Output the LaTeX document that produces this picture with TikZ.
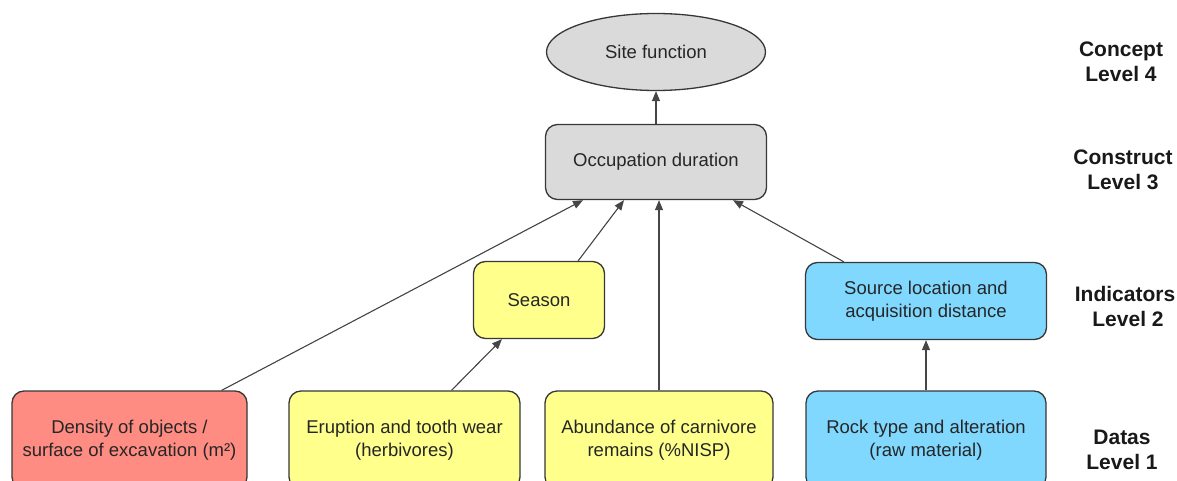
\documentclass[tikz,border=0pt]{standalone}
\usepackage{fontspec}
\setmainfont{Liberation Sans}
\usetikzlibrary{arrows.meta,shapes.geometric,positioning,calc}
\definecolor{boxred}{RGB}{255,140,130}
\definecolor{boxyellow}{RGB}{255,255,140}
\definecolor{boxblue}{RGB}{128,216,255}
\definecolor{boxgray}{RGB}{218,218,218}
\definecolor{boxline}{RGB}{55,55,55}
\definecolor{arrline}{RGB}{70,70,70}

\begin{document}
\begin{tikzpicture}[x=1pt, y=-1pt,
    box/.style={draw=boxline, line width=1.3pt, rounded corners=12pt, align=center,
        inner sep=0pt, text=black!85, font=\fontsize{18.5}{23}\selectfont},
    arr/.style={-{Triangle[length=10pt,width=8pt]}, line width=1.1pt, draw=arrline, fill=arrline},
    lvl/.style={align=center, text=black!90, font=\fontsize{21}{25}\selectfont\bfseries}]
    \clip (0,0) rectangle (1177,481);

    % Level 4
    \node[ellipse, draw=boxline, line width=1.3pt, fill=boxgray, minimum width=219pt,
        minimum height=77pt, inner sep=0pt, text=black!85, font=\fontsize{18.5}{23}\selectfont]
        (site) at (656,52) {Site function};

    % Level 3
    \node[box, fill=boxgray, minimum width=221pt, minimum height=75pt] (occ) at (656,162) {Occupation duration};

    % Level 2
    \node[box, fill=boxyellow, minimum width=131pt, minimum height=77pt] (season) at (539,300) {Season};
    \node[box, fill=boxblue, minimum width=241pt, minimum height=77pt] (source) at (926,301)
        {Source location and\\acquisition distance};

    % Level 1
    \node[box, fill=boxred, minimum width=235pt, minimum height=98pt] (dens) at (129.5,440)
        {Density of objects /\\surface of excavation (m²)};
    \node[box, fill=boxyellow, minimum width=231pt, minimum height=98pt] (erupt) at (404.5,440)
        {Eruption and tooth wear\\(herbivores)};
    \node[box, fill=boxyellow, minimum width=228pt, minimum height=98pt] (abund) at (659,440)
        {Abundance of carnivore\\remains (\%NISP)};
    \node[box, fill=boxblue, minimum width=240pt, minimum height=98pt] (rock) at (926,440)
        {Rock type and alteration\\(raw material)};

    % Arrows
    \draw[arr] (occ) -- (site);
    \draw[arr] ($(dens.north east)+(-26,0)$) -- ($(occ.south)+(-73,0)$);
    \draw[arr] ($(season.north east)+(-27,0)$) -- ($(occ.south)+(-32,0)$);
    \draw[arr] (abund.north) -- (abund.north |- occ.south);
    \draw[arr] ($(source.north west)+(39,0)$) -- ($(occ.south)+(77,0)$);
    \draw[arr] ($(erupt.north)+(47,0)$) -- ($(season.south)+(-37,0)$);
    \draw[arr] (rock) -- (source);

    % Level labels
    \node[lvl] (lvl4) at (1121,62) {Concept\\Level 4};
    \node[lvl] (lvl3) at (1123,170) {Construct\\Level 3};
    \node[lvl] (lvl2) at (1125,306) {Indicators\\\hspace*{6pt}Level 2};
    \node[lvl] (lvl1) at (1122,450) {Datas\\Level 1};
\end{tikzpicture}
\end{document}
